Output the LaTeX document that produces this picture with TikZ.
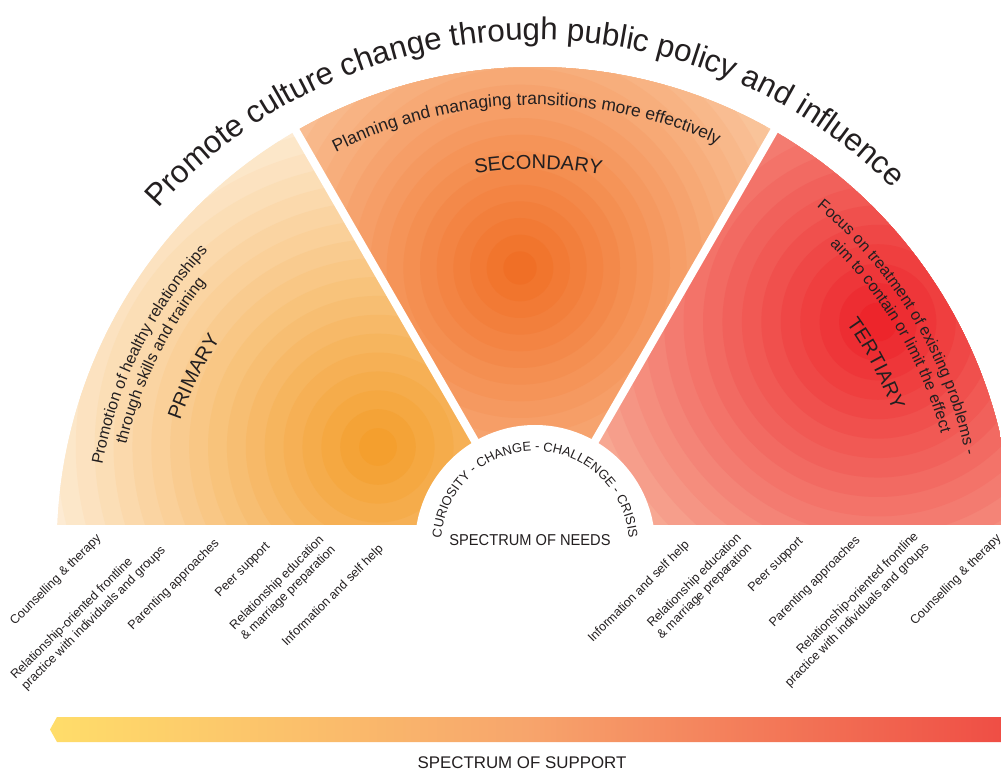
\documentclass[tikz,border=0pt]{standalone}
\usepackage{fontspec}
\setmainfont{Liberation Sans}
\newfontfamily\condf[FakeStretch=0.93]{Liberation Sans}
\usetikzlibrary{decorations.text,calc}
\definecolor{txt}{HTML}{231F20}
\definecolor{Phot}{HTML}{F39A24}
\definecolor{Ppale}{HTML}{FDEBD3}
\definecolor{Shot}{HTML}{F06A1F}
\definecolor{Spale}{HTML}{FAC8A0}
\definecolor{Thot}{HTML}{EC1C24}
\definecolor{Tpale}{HTML}{F8B8A0}
\definecolor{BarY}{HTML}{FFDD6A}
\definecolor{BarM}{HTML}{F7A56C}
\definecolor{BarR}{HTML}{EF4E45}
\tikzset{
  blabel/.style={rotate=45, text=txt, inner sep=0pt, font=\fontsize{8.9pt}{10.7pt}\selectfont},
  arctext/.style={decorate, decoration={text along path, text align=center, text={#1}}}
}
\begin{document}
\begin{tikzpicture}[x=0.025cm,y=0.025cm]
\useasboundingbox (0,0) rectangle (1001,771);
\fill[white] (0,0) rectangle (1001,771);
\coordinate (C) at (535,226);
% ---------- fan ----------
\begin{scope}
  \clip (0,246) rectangle (1001,771);
  % primary
  \begin{scope}
    \clip (C) -- ++(120:478) arc[start angle=120,end angle=185,radius=478] -- cycle;
    \fill[Ppale] (0,0) rectangle (1001,771);
    \foreach \i in {18,...,1}{
      \pgfmathsetmacro{\pp}{100*\i/18}
      \fill[Ppale!\pp!Phot] (378,324) circle[radius={340*\i/18}];
    }
  \end{scope}
  % secondary
  \begin{scope}
    \clip (C) -- ++(60:478) arc[start angle=60,end angle=120,radius=478] -- cycle;
    \fill[Spale] (0,0) rectangle (1001,771);
    \foreach \i in {18,...,1}{
      \pgfmathsetmacro{\pp}{100*\i/18}
      \fill[Spale!\pp!Shot] (520,503) circle[radius={300*\i/18}];
    }
  \end{scope}
  % tertiary
  \begin{scope}
    \clip (C) -- ++(60:478) arc[start angle=60,end angle=-5,radius=478] -- cycle;
    \fill[Tpale] (0,0) rectangle (1001,771);
    \foreach \i in {18,...,1}{
      \pgfmathsetmacro{\pp}{100*\i/18}
      \fill[Tpale!\pp!Thot] (878,449) circle[radius={350*\i/18}];
    }
  \end{scope}
  % separators and inner disc
  \draw[white, line width=5.7pt] (C) -- ++(120:500);
  \draw[white, line width=5.7pt] (C) -- ++(60:500);
  \fill[white] (C) circle[radius=120];
\end{scope}
% ---------- arc texts ----------
\path[arctext={|\fontsize{22.3pt}{26pt}\selectfont\color{txt}|Promote culture change through public policy and influence}]
  ($(C)+(181.6:505)$) arc[start angle=181.6,end angle=1.6,radius=505];
\path[arctext={|\fontsize{12.4pt}{14pt}\selectfont\color{txt}|Planning and managing transitions more effectively}]
  ($(C)+(170:440)$) arc[start angle=170,end angle=12.4,radius=440];
\path[arctext={|\fontsize{14.2pt}{16pt}\selectfont\color{txt}|SECONDARY}]
  ($(C)+(170:376)$) arc[start angle=170,end angle=9,radius=376];
\path[arctext={|\fontsize{11.4pt}{13pt}\selectfont\color{txt}|Promotion of healthy relationships}]
  ($(C)+(190:440)$) arc[start angle=190,end angle=117.6,radius=440];
\path[arctext={|\fontsize{11.4pt}{13pt}\selectfont\color{txt}|through skills and training}]
  ($(C)+(190:421)$) arc[start angle=190,end angle=117.6,radius=421];
\path[arctext={|\fontsize{14.2pt}{16pt}\selectfont\color{txt}|PRIMARY}]
  ($(C)+(190:376)$) arc[start angle=190,end angle=117.6,radius=376];
\path[arctext={|\fontsize{11.4pt}{13pt}\selectfont\color{txt}|Focus on treatment of existing problems -}]
  ($(C)+(70:440)$) arc[start angle=70,end angle=-8,radius=440];
\path[arctext={|\fontsize{11.4pt}{13pt}\selectfont\color{txt}|aim to contain or limit the effect}]
  ($(C)+(70:421)$) arc[start angle=70,end angle=-9,radius=421];
\path[arctext={|\fontsize{14.2pt}{16pt}\selectfont\color{txt}|TERTIARY}]
  ($(C)+(67:382)$) arc[start angle=67,end angle=-11,radius=382];
\path[arctext={|\fontsize{9.2pt}{10pt}\selectfont\color{txt}|CURIOSITY - CHANGE - CHALLENGE - CRISIS}]
  ($(C)+(178:94)$) arc[start angle=178,end angle=2,radius=94];
\node[text=txt, font=\condf\fontsize{11.2pt}{12pt}\selectfont] (needs) at (530,231) {SPECTRUM OF NEEDS};
% ---------- bottom labels ----------
\node[blabel] (l1) at (56,191) {Counselling \& therapy};
\node[blabel, align=left] (l2) at (88.5,158) {Relationship-oriented frontline\\practice with individuals and groups};
\node[blabel] (l3) at (174,186) {Parenting approaches};
\node[blabel] (l4) at (243,201) {Peer support};
\node[blabel, align=left] (l5) at (283,183) {Relationship education\\\& marriage preparation};
\node[blabel] (l6) at (333,175) {Information and self help};
\node[blabel] (r1) at (639,179) {Information and self help};
\node[blabel, align=right] (r2) at (699.5,184.5) {Relationship education\\\& marriage preparation};
\node[blabel] (r3) at (776,206) {Peer support};
\node[blabel] (r4) at (815,189) {Parenting approaches};
\node[blabel, align=right] (r5) at (852,161) {Relationship-oriented frontline\\practice with individuals and groups};
\node[blabel] (r6) at (956,191) {Counselling \& therapy};
% ---------- support bar ----------
\shade[left color=BarY, right color=BarR, middle color=BarM]
  (57,54) -- (1001,54) -- (1001,29) -- (57,29) -- (50,41.5) -- cycle;
\node[text=txt, font=\fontsize{12pt}{13pt}\selectfont] (support) at (522,8) {SPECTRUM OF SUPPORT};
\end{tikzpicture}
\end{document}
